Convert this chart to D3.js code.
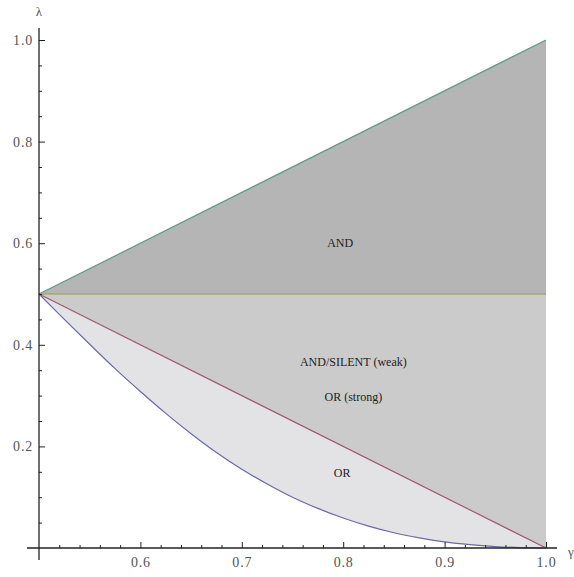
<!DOCTYPE html>
<html><head><meta charset="utf-8">
<script src="https://cdn.jsdelivr.net/npm/d3@7"></script>
<style>body{margin:0;background:#fff}svg{display:block}svg text{font-family:"Liberation Serif","DejaVu Serif",serif}</style>
</head><body>
<script>
// ----- data -----
const xTicks = [0.6, 0.7, 0.8, 0.9, 1.0];
const yTicks = [0.2, 0.4, 0.6, 0.8, 1.0];
const xMinor = [0.52,0.54,0.56,0.58,0.62,0.64,0.66,0.68,0.72,0.74,0.76,0.78,0.82,0.84,0.86,0.88,0.92,0.94,0.96,0.98];
const yMinor = [0.05,0.1,0.15,0.25,0.3,0.35,0.45,0.5,0.55,0.65,0.7,0.75,0.85,0.9,0.95];
// upper boundary (green line)
const upperLine = [[0.5,0.5],[1.0,1.0]];
// middle boundary (olive horizontal)
const midLine = [[0.5,0.5],[1.0,0.5]];
// red line
const redLine = [[0.5,0.5],[1.0,0.0]];
// blue curve
const blueCurve = [[0.5,0.5],[0.52,0.46],[0.55,0.401],[0.575,0.353],[0.6,0.308],[0.625,0.265],[0.65,0.225],
  [0.675,0.188],[0.7,0.155],[0.725,0.126],[0.75,0.1],[0.775,0.078],[0.8,0.059],[0.825,0.043],[0.85,0.03],
  [0.875,0.02],[0.9,0.012],[0.925,0.0065],[0.95,0.0028],[0.975,0.0007],[1.0,0.0]];
const labels = [
  {t:"AND", x:0.797, y:0.592},
  {t:"AND/SILENT (weak)", x:0.81, y:0.358},
  {t:"OR (strong)", x:0.81, y:0.29},
  {t:"OR", x:0.799, y:0.139}
];

const W = 574, H = 577;
const svg = d3.select("body").append("svg").attr("width", W).attr("height", H);
const x = d3.scaleLinear().domain([0.5, 1.0]).range([39, 546]);
const y = d3.scaleLinear().domain([0, 1]).range([548, 40]);

const line = d3.line().x(d => x(d[0])).y(d => y(d[1]));
const curve = d3.line().x(d => x(d[0])).y(d => y(d[1])).curve(d3.curveMonotoneX);

// regions
svg.append("path").attr("d", line(upperLine.concat(midLine.slice().reverse())) + "Z").attr("fill", "#b5b5b5");
svg.append("path").attr("d", line(midLine.concat(redLine.slice().reverse())) + "Z").attr("fill", "#cbcbcb");
svg.append("path").attr("d", curve(blueCurve) + "L" + x(redLine[0][0]) + "," + y(redLine[0][1]) + "Z").attr("fill", "#e3e3e5");

// boundary lines
svg.append("path").attr("d", line(upperLine)).attr("stroke", "#5f9a86").attr("stroke-width", 1.2).attr("fill", "none");
svg.append("path").attr("d", line(midLine)).attr("stroke", "#9a9a52").attr("stroke-width", 1.2).attr("fill", "none");
svg.append("path").attr("d", line(redLine)).attr("stroke", "#9c5c6e").attr("stroke-width", 1.2).attr("fill", "none");
svg.append("path").attr("d", curve(blueCurve)).attr("stroke", "#6a6aa6").attr("stroke-width", 1.2).attr("fill", "none");

// region labels
svg.selectAll("text.lab").data(labels).enter().append("text").attr("class", "lab")
  .attr("x", d => x(d.x)).attr("y", d => y(d.y))
  .attr("text-anchor", "middle").style("font-size", "12px")
  .attr("fill", "#222").text(d => d.t);

// axes
const gx = svg.append("g").attr("transform", `translate(0,${y(0)})`);
gx.call(d3.axisBottom(x).tickValues(xMinor).tickSize(-3).tickFormat(""));
gx.select(".domain").remove();
const gx2 = svg.append("g").attr("transform", `translate(0,${y(0)})`);
gx2.call(d3.axisBottom(x).tickValues(xTicks).tickSize(-6).tickPadding(9).tickFormat(d3.format(".1f")));
gx2.select(".domain").remove();

const gy = svg.append("g").attr("transform", `translate(${x(0.5)},0)`);
gy.call(d3.axisLeft(y).tickValues(yMinor).tickSize(-3).tickFormat(""));
gy.select(".domain").remove();
const gy2 = svg.append("g").attr("transform", `translate(${x(0.5)},0)`);
gy2.call(d3.axisLeft(y).tickValues(yTicks).tickSize(-6).tickPadding(6).tickFormat(d3.format(".1f")));
gy2.select(".domain").remove();

svg.selectAll("g").attr("font-family", null);
svg.selectAll(".tick line").attr("stroke", "#222").attr("stroke-width", 1);
svg.selectAll(".tick text").style("font-size", "14px").attr("fill", "#555").attr("letter-spacing", 0.8);

// axis lines
svg.append("line").attr("x1", 27).attr("x2", 557).attr("y1", y(0)).attr("y2", y(0)).attr("stroke", "#222").attr("stroke-width", 1.3);
svg.append("line").attr("x1", x(0.5)).attr("x2", x(0.5)).attr("y1", 28).attr("y2", 560).attr("stroke", "#222").attr("stroke-width", 1.3);

// axis names
svg.append("text").attr("x", x(0.5)).attr("y", 16).attr("text-anchor", "middle").style("font-size", "13px").attr("fill", "#555").text("λ");
svg.append("text").attr("x", 568).attr("y", 556).style("font-size", "13px").attr("fill", "#555").text("γ");
</script>
</body></html>
